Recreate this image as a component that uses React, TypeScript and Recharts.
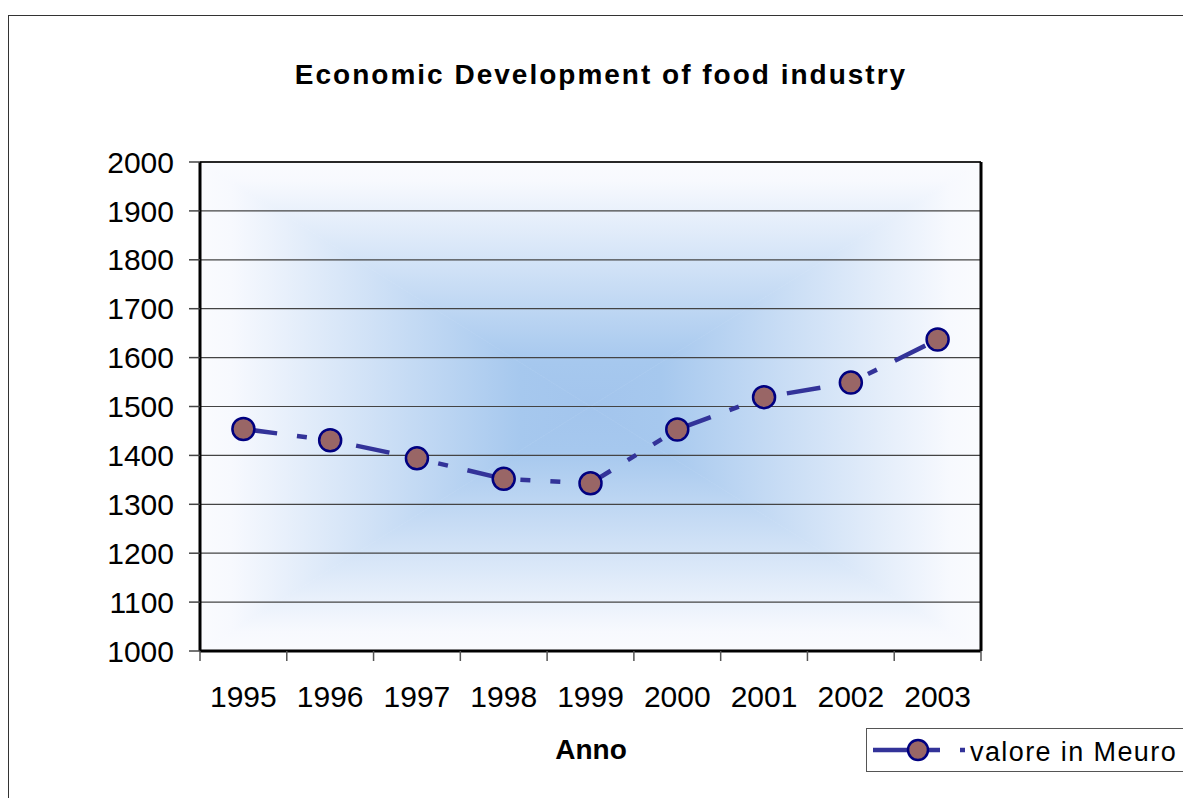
import {
  CartesianGrid,
  Line,
  LineChart,
  ReferenceLine,
  XAxis,
  YAxis,
} from "recharts"

const years = [1995, 1996, 1997, 1998, 1999, 2000, 2001, 2002, 2003]
const values = [1454, 1431, 1394, 1352, 1343, 1453, 1519, 1549, 1637]
const yTicks = [1000, 1100, 1200, 1300, 1400, 1500, 1600, 1700, 1800, 1900, 2000]
const yearBounds = [1994.5, 1995.5, 1996.5, 1997.5, 1998.5, 1999.5, 2000.5, 2001.5, 2002.5, 2003.5]

const seriesName = "valore in Meuro"
const title = "Economic Development of food industry"
const xTitle = "Anno"

const data = years.map((year, i) => ({ year, value: values[i] }))

const font = '"Liberation Sans", Arial, sans-serif'
const lineColor = "#333399"
const dash = "34 20 10 20 10 20"
const edgeColor = "#fafbfe"
const centerColor = "#a6c8ee"

// stops going from the plot edge toward its centre
function Stops() {
  return (
    <>
      <stop offset="0" stopColor={edgeColor} />
      <stop offset="0.08" stopColor="#f7f9fe" />
      <stop offset="0.82" stopColor={centerColor} />
      <stop offset="1" stopColor="#a3c5ed" />
    </>
  )
}

function StopsRev() {
  return (
    <>
      <stop offset="0" stopColor="#a3c5ed" />
      <stop offset="0.18" stopColor={centerColor} />
      <stop offset="0.92" stopColor="#f7f9fe" />
      <stop offset="1" stopColor={edgeColor} />
    </>
  )
}

export default function App() {
  return (
    <div
      style={{
        position: "relative",
        width: 1183,
        height: 790,
        overflow: "hidden",
        background: "#fff",
        fontFamily: font,
      }}
    >
      <div
        style={{
          position: "absolute",
          left: 0,
          top: 7,
          width: 1400,
          height: 1000,
          border: "1.5px solid #333",
        }}
      />
      <div
        style={{
          position: "absolute",
          left: 593,
          top: 53,
          transform: "translateX(-50%)",
          whiteSpace: "nowrap",
          fontSize: 28,
          lineHeight: "28px",
          letterSpacing: 2,
          fontWeight: "bold",
          color: "#000",
        }}
      >
        {title}
      </div>

      <div style={{ position: "absolute", left: 0, top: 0 }}>
        <LineChart
          width={1183}
          height={790}
          data={data}
          margin={{ top: 154, right: 210, left: 112, bottom: 86 }}
        >
          <defs>
            <linearGradient id="gTop" x1="0" y1="0" x2="0" y2="1">
              <Stops />
            </linearGradient>
            <linearGradient id="gBottom" x1="0" y1="0" x2="0" y2="1">
              <StopsRev />
            </linearGradient>
            <linearGradient id="gLeft" x1="0" y1="0" x2="1" y2="0">
              <Stops />
            </linearGradient>
            <linearGradient id="gRight" x1="0" y1="0" x2="1" y2="0">
              <StopsRev />
            </linearGradient>
            <pattern
              id="plotBg"
              patternUnits="objectBoundingBox"
              patternContentUnits="objectBoundingBox"
              x="0"
              y="0"
              width="1"
              height="1"
            >
              <polygon points="0,0 1,0 0.5,0.5" fill="url(#gTop)" stroke="url(#gTop)" strokeWidth={0.001} />
              <polygon points="0,1 1,1 0.5,0.5" fill="url(#gBottom)" stroke="url(#gBottom)" strokeWidth={0.001} />
              <polygon points="0,0 0,1 0.5,0.5" fill="url(#gLeft)" stroke="url(#gLeft)" strokeWidth={0.001} />
              <polygon points="1,0 1,1 0.5,0.5" fill="url(#gRight)" stroke="url(#gRight)" strokeWidth={0.001} />
            </pattern>
          </defs>

          <CartesianGrid
            vertical={false}
            stroke="#444"
            strokeWidth={1.2}
            fill="url(#plotBg)"
          />

          <XAxis
            xAxisId="bounds"
            dataKey="year"
            type="number"
            domain={[1994.5, 2003.5]}
            ticks={yearBounds}
            interval={0}
            tickFormatter={() => ""}
            tickSize={10}
            tickLine={{ stroke: "#555", strokeWidth: 1.5 }}
            axisLine={{ stroke: "#000", strokeWidth: 3 }}
            height={1}
          />
          <XAxis
            xAxisId="years"
            dataKey="year"
            type="number"
            domain={[1994.5, 2003.5]}
            ticks={years}
            interval={0}
            tickLine={false}
            axisLine={false}
            tickSize={0}
            tickMargin={34}
            tick={{ fill: "#000", fontSize: 30, fontFamily: font }}
            height={60}
          />
          <YAxis
            domain={[1000, 2000]}
            ticks={yTicks}
            interval={0}
            width={80}
            tickSize={11}
            tickMargin={15}
            tickLine={{ stroke: "#444", strokeWidth: 1.5 }}
            axisLine={{ stroke: "#000", strokeWidth: 3 }}
            tick={{ fill: "#000", fontSize: 30, fontFamily: font }}
          />

          <ReferenceLine y={2000} xAxisId="bounds" stroke="#000" strokeWidth={1.5} />
          <ReferenceLine x={2003.5} xAxisId="bounds" stroke="#000" strokeWidth={3} />

          <Line
            xAxisId="years"
            dataKey="value"
            name={seriesName}
            type="linear"
            stroke={lineColor}
            strokeWidth={4.5}
            strokeDasharray={dash}
            dot={{ r: 11, fill: "#996666", stroke: "#000080", strokeWidth: 2.5, strokeDasharray: "" }}
            activeDot={false}
            isAnimationActive={false}
          />
        </LineChart>
      </div>

      <div
        style={{
          position: "absolute",
          left: 583,
          top: 728,
          transform: "translateX(-50%)",
          fontSize: 28,
          lineHeight: "28px",
          fontWeight: "bold",
          color: "#000",
        }}
      >
        {xTitle}
      </div>

      <div
        style={{
          position: "absolute",
          left: 858,
          top: 720,
          width: 400,
          height: 42,
          border: "1.5px solid #555",
          background: "#fff",
        }}
      >
        <svg width={100} height={42} style={{ position: "absolute", left: 0, top: 0 }}>
          <line x1={6} y1={21} x2={73} y2={21} stroke={lineColor} strokeWidth={4.5} />
          <line x1={93} y1={21} x2={98} y2={21} stroke={lineColor} strokeWidth={4.5} />
          <circle cx={51} cy={21} r={10} fill="#996666" stroke="#000080" strokeWidth={2.5} />
        </svg>
        <div
          style={{
            position: "absolute",
            left: 103,
            top: 10,
            fontSize: 27,
            lineHeight: "27px",
            letterSpacing: 1.4,
            whiteSpace: "nowrap",
            color: "#000",
          }}
        >
          {seriesName}
        </div>
      </div>
    </div>
  )
}
